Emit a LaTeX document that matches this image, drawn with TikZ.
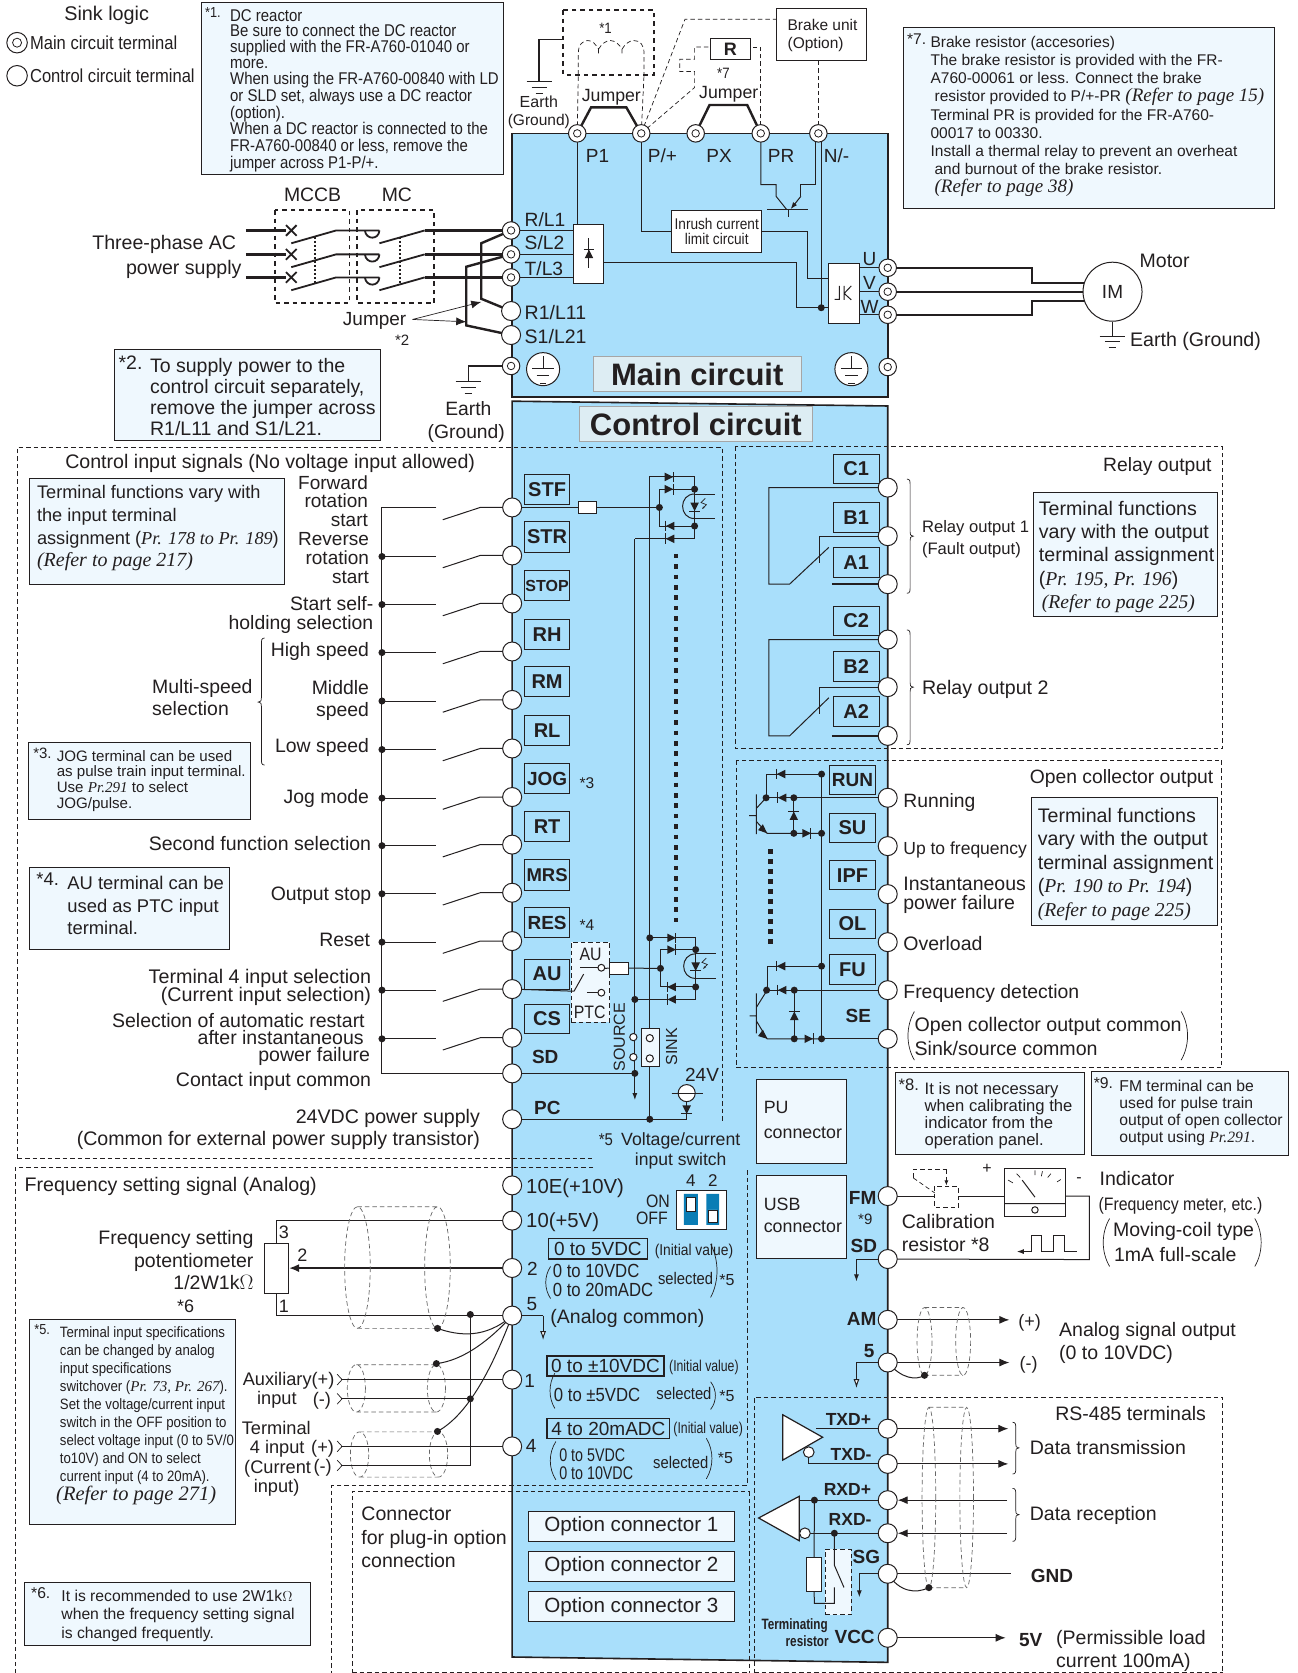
\documentclass[tikz,border=0pt]{standalone}
\usepackage{fontspec}
\setmainfont{Liberation Sans}
\newfontfamily\cn[FakeStretch=0.88]{Liberation Sans}
\newfontfamily\cnn[FakeStretch=0.78]{Liberation Sans}
\newfontfamily\tim{Liberation Serif}
\usetikzlibrary{arrows.meta}
\definecolor{panel}{HTML}{A9DFFB}
\definecolor{note}{HTML}{EFF8FE}
\definecolor{ink}{HTML}{231F20}
\definecolor{lab}{HTML}{DDEDF3}
\definecolor{slot}{HTML}{0A7DB5}
\pgfdeclarelayer{under}\pgfdeclarelayer{wires}
\pgfsetlayers{under,wires,main}
\newcounter{lb}
\newcommand\Lb[5]{\stepcounter{lb}\node[anchor=#1,inner sep=0pt,text=ink,font=\fontsize{#4}{#4}\selectfont] (lb\arabic{lb}) at (#2,{#3+3.5}) {#5};}
\newcommand\LL[4]{\Lb{mid west}{#1}{#2}{#3}{#4}}
\newcommand\LR[4]{\Lb{mid east}{#1}{#2}{#3}{#4}}
\newcommand\LC[4]{\Lb{mid}{#1}{#2}{#3}{#4}}
\newcommand\Nt[6]{\node[anchor=north west,align=left,inner sep=0pt,text=ink,font=\fontsize{#4}{#5}\selectfont] (#1) at (#2,#3) {#6};}
\newcommand\Bx[7][]{\node[draw=ink,inner sep=0pt,line width=1pt,text=ink,minimum width={(#4-#2)*1.0666},minimum height={(#5-#3)*1.0666},font=\fontsize{20}{20}\selectfont,#1] (#6) at ({(#2+#4)/2},{(#3+#5)/2}) {#7};}
\newcommand\Lx[4]{\Bx[fill=panel]{491.5}{#2}{534}{#3}{b#1}{\bfseries #4}}
\newcommand\Rx[4]{\Bx[fill=panel]{781}{#2}{824}{#3}{b#1}{\bfseries #4}}
\newcommand\Ry[4]{\Bx[fill=panel]{777.5}{#2}{820.5}{#3}{b#1}{\bfseries #4}}
\newcommand\Tm[3]{\node[term] (#1) at (#2,#3) {};}
\newcommand\Mt[3]{\node[term,minimum size=17.5pt] (#1) at (#2,#3) {};\node[term,minimum size=7.5pt,line width=.8pt] (#1c) at (#2,#3) {};}
\newcommand\dt[2]{\fill[ink] (#1,#2) circle[radius=3.3];}
\newcommand\dio[4]{\fill[ink] ({#1-4*#3+4*#4},{#2-4*#4+4*#3}) -- ({#1-4*#3-4*#4},{#2-4*#4-4*#3}) -- ({#1+4*#3},{#2+4*#4}) -- cycle; \draw[wire] ({#1+4*#3+5*#4},{#2+4*#4+5*#3}) -- ({#1+4*#3-5*#4},{#2+4*#4-5*#3});}
\newcommand\gnd[4]{\draw[wire] ({#1-#3},#2) -- ({#1+#3},#2) ({#1-#3*.6},{#2+#4}) -- ({#1+#3*.6},{#2+#4}) ({#1-#3*.3},{#2+2*#4}) -- ({#1+#3*.3},{#2+2*#4});}
\newcommand\prn[4]{\draw[thin wire] (#1,#2) .. controls ({#1+#4},{#2+(#3-#2)*.3}) and ({#1+#4},{#2+(#3-#2)*.7}) .. (#1,#3);}
\newcommand\brc[5]{\draw[thin wire] ({#1-3*#5},#2) .. controls (#1,#2) and (#1,{#2+2}) .. (#1,{#2+6}) -- (#1,{#3-4}) .. controls (#1,{#3-1}) .. ({#1+3*#5},#3) .. controls (#1,{#3+1}) .. (#1,{#3+4}) -- (#1,{#4-6}) .. controls (#1,{#4-2}) and (#1,#4) .. ({#1-3*#5},#4);}
\newcommand\photo[2]{\draw[wire] (#1,{#2-12}) .. controls ({#1-15},{#2-12}) and ({#1-15},{#2+11}) .. (#1,{#2+11});
 \draw[wire] (#1,{#2-12}) -- ({#1+19},{#2-12}) (#1,{#2+11}) -- ({#1+19},{#2+11});
 \dio{#1}{#2}{0}{1}
 \draw[thin wire,-{Stealth[length=3pt]}] ({#1+10},{#2-8}) -- ({#1+6},{#2-4}) -- ({#1+11},{#2-2}) -- ({#1+7},{#2+2});
 }
\newcommand\cable[5]{\draw[dsh,draw=gray!80!black] (#1,{(#3+#4)/2}) ellipse[x radius=#5,y radius={(#4-#3)/2}] (#2,{(#3+#4)/2}) ellipse[x radius=#5,y radius={(#4-#3)/2}] (#1,#3) -- (#2,#3) (#1,#4) -- (#2,#4);}
\tikzset{
 wire/.style={draw=ink,line width=1pt},
 thin wire/.style={draw=ink,line width=.7pt},
 thk/.style={draw=ink,line width=2.4pt},
 mid wire/.style={draw=ink,line width=1.8pt},
 dsh/.style={draw=ink,line width=.7pt,dash pattern=on 4.5pt off 3pt},
 dshb/.style={draw=ink,line width=1.9pt,dash pattern=on 4.5pt off 4pt},
 term/.style={circle,draw=ink,fill=white,line width=1pt,inner sep=0pt,minimum size=19pt},
 notebox/.style={fill=note},
 arr/.style={-{Latex[length=10pt,width=8pt]}},
 sarr/.style={-{Latex[length=7pt,width=5pt]}},
 harr/.style={-{Latex[open,fill=white,length=9pt,width=6pt]}}
}
\begin{document}
\begin{tikzpicture}[x=1.0666pt,y=-1.0666pt]
\useasboundingbox (0,0) rectangle (1216,1568);
\begin{pgfonlayer}{under}
\fill[white] (0,0) rectangle (1216,1568);
\draw[fill=panel,draw=ink,line width=1.6pt] (480,125) rectangle (832,372);
\draw[fill=panel,draw=ink,line width=1.6pt] (480,376) -- (832,380.5) -- (832,1558) -- (480,1553) -- cycle;
\draw[dsh] (16.5,1086) -- (16.5,419) -- (677,419) -- (677,1052);
\draw[dsh] (16.5,1086) -- (556,1086);
\draw[dsh] (556,1094) -- (14,1094) -- (14,1568);
\draw[dsh] (700,1097) -- (700,1392) -- (311,1392) -- (311,1568);
\draw[dsh] (330,1568) -- (330,1398) -- (702,1398) -- (702,1568);
\draw[dsh] (330,1567) -- (702,1567);
\draw[dsh] (707,1568) -- (707,1309.6) -- (1146,1309.6) -- (1146,1568);
\draw[dsh] (707,1567) -- (1146,1567);
\draw[dsh] (689,418.7) rectangle (1146,701.5);
\draw[dsh] (690,712.4) rectangle (1145,1000.5);
\end{pgfonlayer}
% ---- note boxes
\Bx[notebox]{188.5}{2}{472}{164}{n1}{}
\LL{192}{10.5}{14.5}{\cn *1.}
\Nt{n1t}{215.5}{8.5}{17}{15.8}{\cn DC reactor\\ \cn Be sure to connect the DC reactor\\ \cn supplied with the FR-A760-01040 or\\ \cn more.\\ \cn When using the FR-A760-00840 with LD\\ \cn or SLD set, always use a DC reactor\\ \cn (option).\\ \cn When a DC reactor is connected to the\\[.5pt] \cn FR-A760-00840 or less, remove the\\[1pt] \cn jumper across P1-P/+.}
\Bx[notebox]{107}{328}{357}{412.5}{n2}{}
\LL{111}{340}{19.5}{*2.}
\Nt{n2t}{140.5}{336}{19.5}{20.9}{To supply power to the\\ control circuit separately,\\ remove the jumper across\\ R1/L11 and S1/L21.}
\Bx[notebox]{847}{26}{1194.5}{195}{n7}{}
\LL{850}{35.5}{15.5}{*7.}
\Nt{n7t}{872}{33.5}{15.5}{18.2}{Brake resistor (accesories)\\ The brake resistor is provided with the FR-\\ A760-00061 or less. Connect the brake\\ \hspace*{4pt}resistor provided to P/+-PR {\tim\itshape\fontsize{19}{18}\selectfont (Refer to page 15)}\\ Terminal PR is provided for the FR-A760-\\ 00017 to 00330.\\ Install a thermal relay to prevent an overheat\\ \hspace*{4pt}and burnout of the brake resistor.\\ \hspace*{4pt}{\tim\itshape\fontsize{19}{18}\selectfont (Refer to page 38)}}
\Bx[notebox]{28}{448}{267}{547.5}{na}{}
\Nt{nat}{34.5}{455}{18.2}{22.6}{Terminal functions vary with\\ the input terminal\\ assignment ({\tim\itshape Pr. 178 to Pr. 189})\\ {\tim\itshape\fontsize{20}{22.6}\selectfont (Refer to page 217)}}
\Bx[notebox]{26.5}{696}{235}{768}{n3}{}
\LL{31}{705}{15}{*3.}
\Nt{n3t}{53}{703}{15.1}{15.6}{JOG terminal can be used\\ as pulse train input terminal.\\ Use {\tim\itshape Pr.291} to select\\ JOG/pulse.}
\Bx[notebox]{28}{813.5}{215}{889.5}{n4}{}
\LL{34}{824}{18.4}{*4.}
\Nt{n4t}{63}{821}{18.4}{22.5}{AU terminal can be\\ used as PTC input\\ terminal.}
\Bx[notebox]{969}{461.6}{1141.5}{577.5}{nr}{}
\Nt{nrt}{973.5}{469.5}{19.6}{23.3}{Terminal functions\\ vary with the output\\ terminal assignment\\ ({\tim\itshape Pr. 195, Pr. 196})\\ \hspace*{3pt}{\tim\itshape (Refer to page 225)}}
\Bx[notebox]{967}{747}{1141.5}{867}{no}{}
\Nt{not}{972.5}{757}{19.6}{23.5}{Terminal functions\\ vary with the output\\ terminal assignment\\ ({\tim\itshape Pr. 190 to Pr. 194})\\ {\tim\itshape (Refer to page 225)}}
\Bx[notebox]{839}{1005.5}{1016.6}{1082}{n8}{}
\LL{842}{1016.5}{16.6}{*8.}
\Nt{n8t}{866.5}{1014.5}{16.6}{17}{It is not necessary\\ when calibrating the\\ indicator from the\\ operation panel.}
\Bx[notebox]{1023}{1004.5}{1208}{1082.7}{n9}{}
\LL{1025}{1014.5}{15.7}{*9.}
\Nt{n9t}{1049}{1012.5}{15.7}{16.8}{FM terminal can be\\ used for pulse train\\ output of open collector\\ output using {\tim\itshape Pr.291}.}
\Bx[notebox]{28}{1237}{220.6}{1429}{n5}{}
\LL{32}{1244.5}{14.5}{\cn *5.}
\Nt{n5t}{56}{1243}{15}{18}{\cn Terminal input specifications\\ \cn can be changed by analog\\ \cn input specifications\\ \cn switchover ({\tim\itshape Pr. 73, Pr. 267}).\\ \cn Set the voltage/current input\\ \cn switch in the OFF position to\\ \cn select voltage input (0 to 5V/0\\ \cn to10V) and ON to select\\ \cn current input (4 to 20mA).}
\LL{52.5}{1400.5}{20.5}{\tim\itshape (Refer to page 271)}
\Bx[notebox]{23}{1483.4}{291}{1542}{n6}{}
\LL{29}{1492.5}{15.7}{*6.}
\Nt{n6t}{57.4}{1490}{15.7}{18.6}{It is recommended to use 2W1k$\Omega$\\ when the frequency setting signal\\ is changed frequently.}
\Bx[notebox]{709}{1012}{793}{1090.5}{pu}{}
\Nt{put}{715.7}{1032}{17.8}{24.5}{PU\\ connector}
\Bx[notebox]{709}{1102}{793}{1179.6}{usb}{}
\Nt{usbt}{715.7}{1123}{17.8}{22}{USB\\ connector}
\Bx[fill=lab,draw=gray!70,line width=1.2pt]{556}{334}{751}{367}{mainl}{\fontsize{31}{31}\selectfont\bfseries Main circuit}
\Bx[fill=lab,draw=gray!70,line width=1.2pt]{543}{381}{761.4}{414}{ctrll}{\fontsize{31}{31}\selectfont\bfseries Control circuit}
\Bx[fill=white]{629.5}{197}{714}{236.5}{inr}{\fontsize{15.5}{17}\selectfont\cn\shortstack{Inrush current\\limit circuit}}
\Bx[fill=white]{728}{8}{812}{56.6}{brk}{}
\Nt{brkt}{738}{18}{15.5}{18}{Brake unit\\ (Option)}
\Bx[fill=white]{665.5}{36}{703.4}{55.6}{rbox}{\fontsize{18}{18}\selectfont\bfseries R}
\Bx[fill=white]{537.5}{210}{566}{266}{rec}{}
\Bx[fill=white]{776.5}{247}{805.5}{303}{inv}{}
\Bx[fill=note]{495.5}{1416.6}{688}{1444.7}{op1}{\fontsize{20.6}{20}\selectfont Option connector 1}
\Bx[fill=note]{495.5}{1453.7}{688}{1482}{op2}{\fontsize{20.6}{20}\selectfont Option connector 2}
\Bx[fill=note]{495.5}{1492}{688}{1520}{op3}{\fontsize{20.6}{20}\selectfont Option connector 3}
\Bx[line width=1.3pt]{514}{1161}{606.7}{1180}{v1}{\fontsize{19}{19}\selectfont 0 to 5VDC}
\Bx[line width=1.3pt]{512.6}{1271}{622.4}{1289.7}{v2}{\fontsize{19}{19}\selectfont 0 to ±10VDC}
\Bx[line width=1.3pt]{512.6}{1329.7}{627.8}{1348.4}{v3}{\fontsize{19}{19}\selectfont 4 to 20mADC}
\Bx[fill=white]{248}{1165}{270.4}{1212}{pot}{}
\Bx[fill=white]{542}{470}{559}{481.5}{rsA}{}
\Bx[fill=white]{571}{901.7}{588.6}{913}{rsB}{}
\Bx[fill=note]{601}{964}{618}{1000}{swj}{}
\Bx[fill=white]{941.4}{1095}{998.7}{1140}{mtr}{}
\Bx[fill=white]{756}{1460}{770}{1491.5}{rterm}{}
\node[circle,draw=ink,fill=white,line width=1pt,minimum size=59pt,inner sep=0pt,text=ink,font=\fontsize{19}{19}\selectfont] (im) at (1042.7,273.4) {IM};
% terminal label boxes
\Lx{STF}{444.7}{472.5}{STF}\Lx{STR}{489}{517.5}{STR}\Lx{STOP}{535}{562.5}{\fontsize{16}{16}\selectfont STOP}
\Lx{RH}{580.6}{608.5}{RH}\Lx{RM}{625}{653}{RM}\Lx{RL}{671}{699}{RL}\Lx{JOG}{715.6}{743.7}{\fontsize{19}{19}\selectfont JOG}
\Lx{RT}{761}{789}{RT}\Lx{MRS}{806}{834.5}{\fontsize{18.5}{19}\selectfont MRS}\Lx{RES}{851}{879}{\fontsize{19}{19}\selectfont RES}\Lx{AU}{899}{927}{AU}\Lx{CS}{941}{969}{CS}
\Rx{C1}{425.6}{453}{C1}\Rx{B1}{471}{499}{B1}\Rx{A1}{513}{541}{A1}\Rx{C2}{568}{596}{C2}\Rx{B2}{611}{639}{B2}\Rx{A2}{653}{681}{A2}
\Ry{RUN}{717}{744.6}{\fontsize{19}{19}\selectfont RUN}\Ry{SU}{762}{790}{SU}\Ry{IPF}{806.4}{834}{IPF}\Ry{OL}{852}{880}{OL}\Ry{FU}{894.6}{923}{FU}
% ---- terminals
\Mt{tP1}{541}{125}\Mt{tPp}{601}{125}\Mt{tPX}{652}{125}\Mt{tPR}{713}{125}\Mt{tN}{767}{125}
\Mt{tR}{479}{216}\Mt{tS}{479}{238.4}\Mt{tT}{479}{260}
\Tm{tRo}{479}{291.5}\Tm{tSo}{479}{314}\Mt{tE}{479}{343}
\Mt{tU}{832}{251}\Mt{tV}{832}{273.4}\Mt{tW}{832}{295}\Mt{tEr}{832}{344}
\foreach \n/\y in {STF/475.6,STR/520.6,STOP/565.6,RH/610.6,RM/656,RL/701.5,JOG/747,RT/791.6,MRS/836.7,RES/882,AU/927,CS/972.6,SD/1006,PC/1049,tenE/1111,ten/1144,two/1188.4,five/1233,one/1293,four/1355.6}{
 \node[term] (t\n) at (480,\y) {};}
\foreach \n/\y in {C1/457,B1/502.5,A1/547.5,C2/599.4,B2/644,A2/689.7,RUN/747.7,SU/793,IPF/838,OL/883,FU/928,SE/973.6,FM/1121,SDo/1180,AM/1237,fiveo/1277,TXp/1339,TXm/1372,RXp/1406,RXm/1437,SG/1475,VCC/1535}{
 \node[term] (t\n) at (832,\y) {};}
% free ends
\coordinate (nA) at (769.7,125);\coordinate (nB) at (764.5,125);
\coordinate (acR) at (230.5,216);\coordinate (acS) at (230.5,238.4);\coordinate (acT) at (230.5,260);
\coordinate (jpa) at (386.7,299.4);
\coordinate (auxp) at (320,1293);\coordinate (auxm) at (320,1311);\coordinate (fourp) at (320,1355.6);\coordinate (fourm) at (320,1373.5);
\coordinate (outAMp) at (946,1237);\coordinate (outAMm) at (946,1277);
\coordinate (outTp) at (945,1339);\coordinate (outTm) at (945,1372);
\coordinate (inRp) at (944,1406);\coordinate (inRm) at (944,1437);
\coordinate (outG) at (947.6,1475);\coordinate (outV) at (942.5,1535);
% ---- wires
\begin{pgfonlayer}{wires}
\Bx[dsh,fill=note]{535.5}{883}{571.4}{958}{auswb}{}
\Bx[dsh,fill=note]{773.3}{1452}{797.5}{1513.4}{rswb}{}
\draw[wire] (tP1.center) -- (tP1.center |- rec.north);
\draw[wire] (tPp.center) |- (inr.west);
\draw[wire] (inr.east) -| (756.4,261) -- (inv.west |- 0,261);
\draw[wire] (rec.east |- 0,246) -- (746.7,246) -- (746.7,288.4) -- (inv.west |- 0,288.4);
\draw[wire] (nA) -- (nA |- 0,288.4);
\dt{769.7}{288.4}
\draw[wire] (tPR.center) -- (713,173) -- (727.4,173) -- (727.4,184) -- (737,196);
\draw[wire] (nB) -- (764.5,173) -- (750.6,173) -- (750.6,184);
\draw[wire,sarr] (750.6,184) -- (741,196);
\draw[wire] (719,196) -- (757,196) (739.4,196) -- (739.4,203);
\draw[wire] (tR.center) -- (rec.west |- tR.center);
\draw[wire] (tS.center) -- (rec.west |- tS.center);
\draw[wire] (tT.center) -- (rec.west |- tT.center);
\draw[wire] (tU.center) -- (inv.east |- tU.center);
\draw[wire] (tV.center) -- (inv.east |- tV.center);
\draw[wire] (tW.center) -- (inv.east |- tW.center);
\draw[thk] (tU.center) -- (967,251) -- (967,265) -- (im.center |- 0,265);
\draw[thk] (tV.center) -- (im.center);
\draw[thk] (tW.center) -- (967,295) -- (967,282) -- (im.center |- 0,282);
\draw[mid wire] (im.south) -- (im.south |- 0,315);
\gnd{1042.7}{315}{12}{5.3}
\draw[mid wire] (tE.center) -- (439,343) -- (439,358);
\gnd{439}{358}{12}{5.3}
\draw[dshb] (528,9.5) rectangle (613,70);
\draw[mid wire] (528,37) -- (505,37) -- (505,76);
\gnd{505.5}{76}{12}{5.6}
\draw[dsh] (tP1.center) -- (542,70) (tPp.center) -- (603.6,70);
\draw[dsh] (542,70) -- (542,50) .. controls (542,42) and (546,38) .. (551,38) .. controls (555,38) and (558,41) .. (561,46) (561,46) -- (561,50) (561,46) .. controls (564,41) and (568,38) .. (572,38) .. controls (576,38) and (580,41) .. (583,46) -- (583,50) (583,46) .. controls (586,41) and (590,38) .. (594,38) .. controls (600,38) and (603.6,42) .. (603.6,50) -- (603.6,70);
\draw[thk] (tP1.center) -- (554,100.6) -- (587,100.6) -- (tPp.center);
\draw[thk] (tPX.center) -- (665,98.4) -- (700.3,98.4) -- (tPR.center);
\draw[dsh] (tPp.center) -- (642,18) -- (brk.west |- 0,18);
\draw[dsh] (tPp.center) -- (651,82) -- (651,67) -- (637,67) -- (637,55.6) -- (651,55.6) -- (651,44) -- (rbox.west |- 0,44);
\draw[dsh] (tPR.center) -- (713,44) -- (rbox.east |- 0,44);
\draw[dsh] (tN.center |- brk.south) -- (tN.center);
% AC input
\foreach \c/\y in {acR/216,acS/238.4,acT/260}{
 \draw[thk] (\c) -- (268,\y);
 \draw[mid wire] (268,{\y-5}) -- (278,{\y+5}) (268,{\y+5}) -- (278,{\y-5});
 \draw[mid wire] (273,{\y+12}) -- (315,\y) -- (355.6,\y);
 \draw[mid wire] (342,\y) .. controls (343,{\y+9}) and (355,{\y+9}) .. (355.6,\y);
 \draw[mid wire] (355.6,{\y+12}) -- (398,\y);
}
\draw[thk] (398,216) -- (tR.center);
\draw[thk] (398,238.4) -- (tS.center);
\draw[thk] (398,260) -- (tT.center);
\draw[wire,dash pattern=on 2pt off 2pt,line width=1.5pt] (295.4,222) -- (295.4,266) (375,222) -- (375,266);
\draw[dshb] (257.7,197) rectangle (327.6,284) (335,197) rectangle (407,284);
\draw[thk] (tR.center) -- (451,228) -- (451,280) -- (tRo.center);
\draw[thk] (tS.center) -- (437,250) -- (437,305) -- (tSo.center);
\draw[thin wire,arr] (jpa) -- (451,283);
\draw[thin wire,arr] (jpa) -- (437,301.6);
% control inputs
\draw[wire] (409,475.6) -- (358,475.6) -- (358,1006) -- (tSD.center);
\foreach \n/\y in {STF/475.6,STR/520.6,STOP/565.6,RH/610.6,RM/656,RL/701.5,JOG/747,RT/791.6,MRS/836.7,RES/882,AU/927,CS/972.6}{
 \draw[wire] (415,{\y+11.5}) -- (450,\y) -- (t\n.center);
}
\foreach \y in {520.6,565.6,610.6,656,701.5,747,791.6,836.7,882,927,972.6}{
 \draw[wire] (358,{\y+1}) -- (409,{\y+1});
 \dt{358}{\y+1}
}
\draw[wire] (tSTF.center) -- (618,475.6);
\dt{618}{475.6}
\draw[wire] (609,1049) -- (609,447) -- (651,447) -- (651,505) -- (595,505);
\draw[wire,sarr] (595,505) -- (595,1031);
\draw[wire] (618,458.5) -- (651,458.5) (618,458.5) -- (618,493) -- (651,493);
\dio{627}{447}{1}{0}\dio{627}{458.5}{1}{0}\dio{628}{493}{-1}{0}\dio{628}{505}{-1}{0}
\dt{651}{458.5}\dt{651}{493}
\photo{651}{475}
\draw[ink,line width=4.8pt,dash pattern=on 4.6pt off 5.8pt] (633.6,519) -- (633.6,866);
\draw[wire] (609,879) -- (652,879) -- (652,936.7) -- (595,936.7);
\draw[wire] (619,890) -- (652,890) (619,890) -- (619,925) -- (652,925);
\dio{629.5}{879}{1}{0}\dio{629.5}{890}{1}{0}\dio{629.5}{925}{-1}{0}\dio{629.5}{936.7}{-1}{0}
\dt{609}{879}\dt{595}{936.7}\dt{652}{890}\dt{652}{925}\dt{619}{907.6}
\photo{652}{906}
\draw[wire] (rsB.east) -- (619,907.6) (rsB.west) -- (567,907.6);
\draw[wire] (tAU.center) -- (538,929) -- (547,913);
\draw[wire] (544,907) -- (560,907) (550,930.4) -- (560,930.4);
\draw[wire,fill=white] (563.6,907) circle[radius=3.2] (563.6,930.4) circle[radius=3.2];
\draw[wire] (tSD.center) -- (595,1006);
\dt{595}{1006}
\draw[wire] (tPC.center) -- (643.6,1049) -- (643.6,1033);
\draw[wire] (629.5,1024.5) -- (659,1024.5);
\dio{643.6}{1040}{0}{1}
\dt{609}{1049}
% analog
\draw[wire] (tten.center) -| (pot.north);
\draw[wire] (tfive.center) -| (pot.south);
\draw[mid wire,arr] (ttwo.center) -- (pot.east);
\cable{335}{410}{1131}{1245}{12}
\cable{334}{409}{1279}{1323.4}{8.5}
\cable{337}{411}{1342}{1384.4}{8.6}
\draw[wire] (440.8,1233) -- (440.8,1373.5) -- (fourm);
\draw[wire] (auxp) -- (tone.center);
\draw[wire] (auxm) -- (440.8,1311);
\draw[wire] (fourp) -- (tfour.center);
\draw[wire] (410,1245) .. controls (430,1252) and (455,1255) .. (tfive.center);
\draw[wire] (409,1278) .. controls (435,1275) and (460,1255) .. (tfive.center);
\draw[wire] (410,1341.6) .. controls (440,1325) and (462,1280) .. (tfive.center);
\dt{410}{1245}\dt{409}{1278}\dt{410}{1341.6}\dt{440.8}{1232}\dt{440.8}{1311}
\foreach \y in {1293,1311,1355.6,1373.5}{\draw[thin wire] (316,{\y-5}) -- (320.6,\y) -- (316,{\y+5});}
\draw[wire] (tfive.center) -- (509,1233);
\draw[wire,harr] (509,1233) -- (509,1256);
% relay
\draw[wire] (tC1.center) -- (720.5,457) -- (720.5,547.5) -- (740,547.5) -- (776.8,513);
\draw[wire] (tB1.center) -- (768,502.5) -- (768,528);
\draw[wire,line width=1.4pt] (779.6,547.5) -- (tA1.center);
\draw[wire] (tC2.center) -- (720.5,599.4) -- (720.5,689.7) -- (740,689.7) -- (776.8,654);
\draw[wire] (tB2.center) -- (768,644) -- (768,669);
\draw[wire,line width=1.4pt] (779.6,689.7) -- (tA2.center);
% open collector
\draw[wire] (770,725.5) -- (718,725.5) -- (718,747.7) -- (tRUN.center);
\draw[wire] (770,725.5) -- (770,973.6) -- (tSE.center);
\draw[wire] (744,747.7) -- (744,781);
\draw[wire] (709,744.6) -- (709,781.7) (702,764.5) -- (709,764.5) (709,757.5) -- (718,747.7) (709,770) -- (719,781) -- (770,781);
\fill[ink] (719,781) -- (710.5,778) -- (715,772.5) -- cycle;
\dio{732}{725.5}{-1}{0}\dio{733}{747.7}{-1}{0}\dio{744}{764.5}{0}{-1}\dio{756}{781}{1}{0}
\dt{770}{725.5}\dt{718}{747.7}\dt{744}{747.7}\dt{744}{781}\dt{770}{781}
\draw[ink,line width=4.8pt,dash pattern=on 4.6pt off 5.4pt] (722,796) -- (722,889);
\draw[wire] (770,905.5) -- (719,905.5) -- (719,928) -- (tFU.center);
\draw[wire] (744.4,928) -- (744.4,973.6);
\draw[wire] (709,931) -- (709,968.6) (702.6,952) -- (709,952) (709,944) -- (719,928) (709,957) -- (719,973.6) -- (770,973.6);
\fill[ink] (719,973.6) -- (710.5,971) -- (715,965) -- cycle;
\dio{732}{905.5}{-1}{0}\dio{733}{928}{-1}{0}\dio{744.4}{952}{0}{-1}\dio{758}{973.6}{1}{0}
\dt{770}{905.5}\dt{718.5}{928}\dt{744.4}{928}\dt{744.4}{973.6}\dt{770}{973.6}
% FM
\draw[wire] (tFM.center) -- (876,1121);
\draw[wire] (898,1121) -- (mtr.west |- 0,1121);
\draw[wire] (mtr.east |- 0,1121) -- (1021,1121) -- (1021,1180.5) -- (tSDo.center);
\draw[wire,sarr] (tSDo.center) -- (802.7,1180) -- (802.7,1201);
\draw[dsh] (876,1112) rectangle (898,1132);
\draw[dsh] (856,1103.6) -- (856,1096) -- (887,1096);
\draw[dsh,-{Latex[length=5pt,width=4pt]}] (887,1096) -- (887,1111);
\draw[dsh] (856,1104) -- (876,1118);
\draw[wire,sarr] (1009,1173) -- (997.6,1173) -- (997.6,1158) -- (987,1158) -- (987,1173) -- (976,1173) -- (976,1158) -- (966.6,1158) -- (966.6,1173) -- (953,1173);
% AM
\draw[wire,arr] (tAM.center) -- (outAMp);
\draw[wire,arr] (tfiveo.center) -- (outAMm);
\draw[wire,harr] (tfiveo.center) -- (802.7,1277) -- (802.7,1301);
\cable{866.5}{902.7}{1225.5}{1289}{7}
\draw[wire] (tfiveo.center) .. controls (845,1292) and (858,1294) .. (866.5,1289);
\dt{866.5}{1289}
% RS-485
\draw[wire,arr] (tTXp.center) -- (outTp);
\draw[wire,arr] (tTXm.center) -- (outTm);
\draw[wire] (765,1339) -- (tTXp.center);
\draw[wire] (758,1366) -- (758,1372) -- (tTXm.center);
\draw[wire,arr] (inRp) -- (tRXp.east);
\draw[wire,arr] (inRm) -- (tRXm.east);
\draw[wire] (749,1406) -- (tRXp.center);
\draw[wire] (759,1437) -- (tRXm.center);
\draw[wire] (763.3,1406) -- (rterm.north);
\draw[wire] (rterm.south) -- (763.3,1502.7) -- (782,1502.7) -- (782,1487.8);
\draw[wire] (782,1437) -- (782,1467) -- (791,1487.8);
\dt{763.3}{1406}\dt{782}{1437}
\draw[wire] (tSG.center) -- (outG);
\draw[wire,sarr] (tSG.center) -- (805.4,1475) -- (805.4,1497);
\cable{870.6}{906}{1319}{1488}{6.4}
\draw[wire] (tSG.center) .. controls (843,1492) and (858,1494) .. (870.6,1488);
\dt{870.6}{1488}
\draw[wire,arr] (tVCC.center) -- (outV);
\end{pgfonlayer}
% ---- symbols on top
\draw[wire] (552,223.4) -- (552,251.6);
\dio{552}{238}{0}{-1}
\draw[wire] (782.3,280.6) -- (786.6,280.6) -- (786.6,268) (791.2,268) -- (791.2,281) (791.2,275) -- (797.8,268) (791.2,275) -- (797.8,281);
\foreach \x/\y in {593.6/972,593.6/990.8,609/973,609/992}{\draw[wire,fill=white] (\x,\y) circle[radius=3.4];}
\draw[wire,fill=white] (643.6,1024.5) circle[radius=8];
\draw[wire] (629.5,1024.5) -- (659,1024.5);
\draw[wire,fill=white] (509,346) circle[radius=15.5];
\draw[wire] (509,334) -- (509,345);
\gnd{509}{345}{10}{7}
\draw[wire,fill=white] (798,346) circle[radius=15.5];
\draw[wire] (798,334) -- (798,345);
\gnd{798}{345}{10}{7}
% dip switch
\Bx[fill=white]{634.5}{1115.6}{680.7}{1152}{dip}{}
\fill[slot] (641,1119) rectangle (654,1148) (662,1119) rectangle (674,1148);
\draw[thin wire,fill=white] (643,1122) rectangle (652,1135) (664,1134) rectangle (672,1146);
% meter
\draw[wire] (941.4,1128) -- (998.7,1128) (970,1122) -- (958,1106);
\draw[wire,fill=white] (970,1134) circle[radius=3];
\draw[thin wire] (944.8,1106) -- (949.3,1108.6) (952.8,1100) -- (956.2,1103.6) (970,1096.8) -- (970,1101.4) (977,1097.7) -- (976,1102.4) (984.9,1100) -- (982,1103.6) (994.2,1105.5) -- (990.7,1107.7);
% drivers
\draw[wire,fill=white,line width=1.2pt] (733.7,1326) -- (771,1347) -- (733.7,1368.4) -- cycle;
\draw[wire,fill=white] (758,1361) circle[radius=5];
\draw[wire,fill=white,line width=1.2pt] (711,1422.7) -- (749,1402.4) -- (749,1444) -- cycle;
\draw[wire,fill=white] (754.4,1437) circle[radius=5];
% braces, parens
\brc{245}{598}{658}{717}{-1}
\brc{853}{449}{502.5}{556}{1}
\brc{853}{590.4}{644}{698}{1}
\brc{952}{1333}{1357}{1381.5}{1}
\brc{952}{1395}{1419.6}{1444.6}{1}
\prn{857}{948}{993.6}{-8}\prn{1107}{948}{993.6}{8}
\prn{1040}{1142}{1187}{-8}\prn{1176}{1142}{1187}{8}
\prn{516}{1187}{1217}{-6}\prn{666}{1166}{1216}{8}
\prn{520}{1287}{1320}{-6}\prn{666}{1295}{1321}{6}
\prn{521}{1351}{1387}{-7}\prn{662}{1348}{1386}{7}
% ---- labels
\LC{100}{13}{19.8}{Sink logic}
\node[term,minimum size=20.5pt] (leg1) at (16,40) {};
\node[term,minimum size=9pt,line width=.8pt] (leg1c) at (16,40) {};
\node[term,minimum size=20.5pt] (leg2) at (16,71) {};
\LL{28}{40}{18.8}{\cn Main circuit terminal}
\LL{28}{71}{18.8}{\cn Control circuit terminal}
\LC{293}{183}{19.4}{MCCB}
\LC{372}{183}{19.4}{MC}
\LR{221.5}{228}{19.6}{Three-phase AC}
\LR{226.6}{251}{19.6}{power supply}
\LL{491.6}{206}{19.2}{R/L1}\LL{491.6}{228}{19.2}{S/L2}\LL{491.6}{252.5}{19.2}{T/L3}
\LL{491.6}{293}{19.5}{R1/L11}\LL{491.6}{316}{19.5}{S1/L21}
\LR{381}{299.4}{19}{Jumper}
\LC{377}{318}{15}{*2}
\LC{439}{383}{19.3}{Earth}\LC{437}{405}{19.3}{(Ground)}
\LC{505}{95}{16}{Earth}\LC{505}{112}{15.5}{(Ground)}
\LC{567.5}{25}{15}{\cn *1}
\LC{573}{89}{17.7}{Jumper}
\LC{683}{86.6}{17.7}{Jumper}
\LC{678}{68}{15}{\cn *7}
\LC{560}{146}{19}{P1}\LL{607}{146}{19}{P/+}\LC{674}{146}{19}{PX}\LC{732}{146}{19}{PR}\LL{772}{146}{19}{N/-}
\LC{815}{243}{19}{U}\LC{815}{265}{19}{V}\LC{815}{288}{19}{W}
\LL{1068}{245}{19.5}{Motor}
\LL{1059}{319}{19.6}{Earth (Ground)}
\LL{61}{433}{19.6}{Control input signals (No voltage input allowed)}
\LR{345}{452.5}{19}{Forward}\LR{345}{470}{19}{rotation}\LR{345}{487.5}{19}{start}
\LR{346}{505.6}{19}{Reverse}\LR{346}{523.4}{19}{rotation}\LR{346}{540.6}{19}{start}
\LR{350}{566}{19.4}{Start self-}\LR{350}{584}{19.4}{holding selection}
\LR{346}{609.4}{19.4}{High speed}\LR{346}{645.3}{19.4}{Middle}\LR{346}{665.6}{19.4}{speed}\LR{346}{699}{19.4}{Low speed}
\LL{142.5}{643.7}{19.4}{Multi-speed}\LL{142.5}{665}{19.4}{selection}
\LR{346}{747}{19.4}{Jog mode}\LR{348}{791.6}{19.5}{Second function selection}
\LR{348}{837.6}{19.4}{Output stop}\LR{347}{881}{19.4}{Reset}
\LR{348}{915.7}{19.7}{Terminal 4 input selection}\LR{348}{933}{19.7}{(Current input selection)}
\LR{342}{957}{19.5}{Selection of automatic restart}\LR{341}{973}{19.5}{after instantaneous}\LR{347}{989}{19.5}{power failure}
\LR{348}{1012}{19.5}{Contact input common}
\LR{450}{1047}{19.6}{24VDC power supply}\LR{450}{1068}{19.6}{(Common for external power supply transistor)}
\LL{543}{733}{15.5}{*3}\LL{543}{866}{15.5}{*4}
\LC{511}{991}{19}{\bfseries SD}\LC{513}{1038.6}{19}{\bfseries PC}
\LC{553.6}{894}{18}{\cn AU}\LC{552.7}{948.6}{18}{\cn PTC}
\node[rotate=90,inner sep=0pt,text=ink,font=\fontsize{16}{16}\selectfont] (lsrc) at (580.5,972) {SOURCE};
\node[rotate=90,inner sep=0pt,text=ink,font=\fontsize{16}{16}\selectfont] (lsnk) at (629.5,981) {SINK};
\LC{658}{1008}{19}{24V}
\LL{561}{1068}{17}{\cn *5}
\LR{694}{1068}{17.7}{Voltage/current}
\LC{638}{1086}{17.5}{input switch}
\LC{647.5}{1106}{17}{4}\LC{668}{1105.6}{17}{2}
\LR{628}{1125.6}{18}{\cn ON}\LR{626}{1142}{18}{\cn OFF}
\LL{23}{1111}{19.6}{Frequency setting signal (Analog)}
\LL{493}{1112.5}{20.3}{10E(+10V)}\LL{493}{1144}{20.3}{10(+5V)}
\LC{499}{1189.4}{19}{2}\LC{498.6}{1222}{19}{5}\LC{496.4}{1294}{19}{1}\LC{497.8}{1355.6}{19}{4}
\LL{515.7}{1234}{19.5}{(Analog common)}
\LR{237.7}{1160}{19.5}{Frequency setting}\LR{237.7}{1182}{19.5}{potentiometer}\LR{237.7}{1202.5}{19.5}{1/2W1k$\Omega$}
\LC{174}{1224}{18}{*6}
\LC{266}{1155}{18}{3}\LC{266}{1224}{18}{1}\LC{283.4}{1176}{18}{2}
\LL{227.4}{1293}{18.2}{Auxiliary(+)}\LL{240.8}{1310}{18.2}{input}\LL{293}{1311}{18.2}{(-)}
\LL{226.5}{1338.5}{18.2}{Terminal}\LL{234}{1356}{18.2}{4 input}\LL{291.5}{1356}{18.2}{(+)}
\LL{228.7}{1375}{18.2}{(Current}\LL{293.7}{1374}{18.2}{(-)}\LL{237.7}{1393}{18.2}{input)}
\LL{338.6}{1419.4}{19.5}{Connector}\LL{338.6}{1441.5}{19.5}{for plug-in option}\LL{338.6}{1463.5}{19.5}{connection}
\LL{613.5}{1171}{15.7}{\cn (Initial value)}
\LL{518}{1191.6}{19}{\cn 0 to 10VDC}\LL{518}{1209.4}{19}{\cn 0 to 20mADC}
\LL{616.6}{1197.5}{16.8}{\cn selected}\LL{674}{1199}{16}{*5}
\LL{627}{1279}{15.7}{\cnn (Initial value)}
\LL{519}{1308}{19}{\cn 0 to ±5VDC}\LL{615}{1306}{16.8}{\cn selected}\LL{674}{1308}{16}{*5}
\LL{631}{1338}{15.7}{\cnn (Initial value)}
\LL{524}{1363.4}{18.3}{\cnn 0 to 5VDC}\LL{524}{1381}{18.3}{\cnn 0 to 10VDC}
\LL{612}{1370}{16.8}{\cn selected}\LL{672.6}{1365.6}{16}{*5}
\LR{1135.7}{436}{19.3}{Relay output}
\LL{864}{493}{16.6}{Relay output 1}\LL{864}{514}{16.6}{(Fault output)}
\LL{864}{644.6}{19.6}{Relay output 2}
\LR{1137.4}{728}{19.3}{Open collector output}
\LL{846.5}{750.5}{19.3}{Running}
\LL{846.5}{795}{17.5}{Up to frequency}
\LL{846.5}{828.6}{19.5}{Instantaneous}\LL{846.5}{846}{19.5}{power failure}
\LL{846.5}{885}{19.5}{Overload}\LL{846.5}{930}{19.4}{Frequency detection}
\LL{857}{961}{19.6}{Open collector output common}\LL{857}{983}{19.6}{Sink/source common}
\LC{804.4}{952.4}{19}{\bfseries SE}
\LR{821.6}{1122.7}{19}{\bfseries FM}\LC{811}{1142}{15}{*9}\LC{809.6}{1168}{19}{\bfseries SD}
\LR{821.6}{1236.7}{19}{\bfseries AM}\LC{814.7}{1266.4}{19}{\bfseries 5}
\LC{925}{1094}{16}{+}\LC{1011.4}{1102}{16}{-}
\LL{845}{1145}{19.5}{Calibration}\LL{845}{1167}{19.5}{resistor *8}
\LL{1030.4}{1105.5}{19.5}{Indicator}
\LL{1029.4}{1128.6}{18}{\cn (Frequency meter, etc.)}
\LL{1043}{1153}{19.5}{Moving-coil type}\LL{1044}{1176}{19.5}{1mA full-scale}
\LC{965}{1238}{18}{(+)}\LC{964}{1278}{18}{(-)}
\LL{992.5}{1246.8}{19.5}{Analog signal output}\LL{992.5}{1268}{19.5}{(0 to 10VDC)}
\LR{1130.5}{1325}{19.5}{RS-485 terminals}
\LL{965}{1357.4}{19.5}{Data transmission}\LL{965}{1419}{19.5}{Data reception}
\LR{816.5}{1330}{17.5}{\bfseries TXD+}\LR{817}{1363}{17.5}{\bfseries TXD-}\LR{816.5}{1395.6}{17.5}{\bfseries RXD+}\LR{817}{1424}{17.5}{\bfseries RXD-}
\LC{812}{1459}{19}{\bfseries SG}\LR{820}{1534.6}{19}{\bfseries VCC}
\LL{966}{1477}{19}{\bfseries GND}\LL{955}{1537}{19}{\bfseries 5V}
\LL{989.7}{1535}{19.5}{(Permissible load}\LL{989.7}{1556.5}{19.5}{current 100mA)}
\LL{713.6}{1521.5}{15}{\cnn\bfseries Terminating}\LR{776.8}{1537}{15}{\cnn\bfseries resistor}
\end{tikzpicture}
\end{document}
